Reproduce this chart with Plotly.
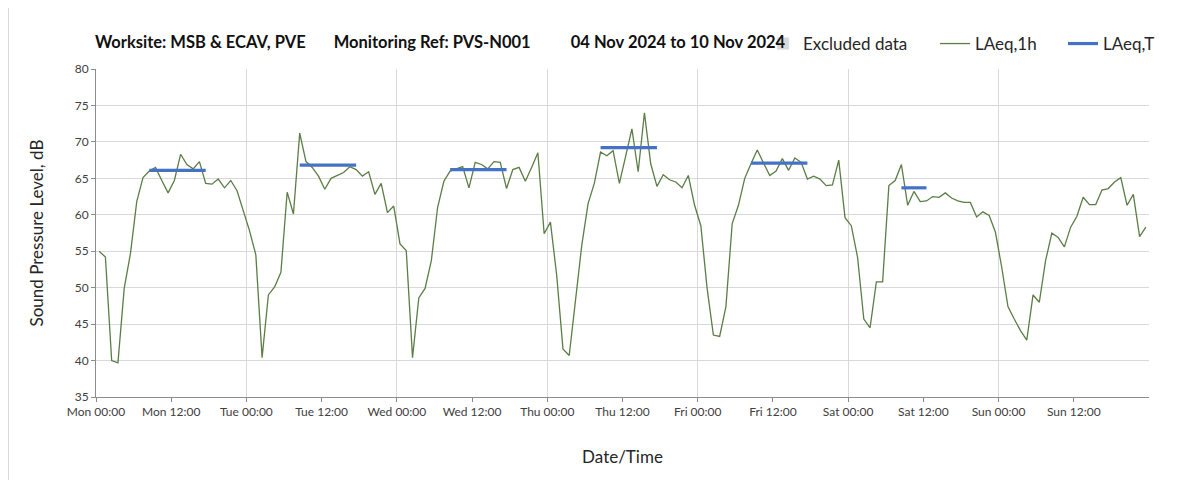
import plotly.graph_objects as go

# ---- data (hourly LAeq,1h values, one list per day, points at hh:30) ----
days = ["Mon", "Tue", "Wed", "Thu", "Fri", "Sat", "Sun"]
mon = [55.0, 54.2, 40.0, 39.7, 49.9, 54.7, 61.8, 65.1, 66.0, 66.5, 64.7, 63.0,
       64.7, 68.3, 66.9, 66.3, 67.3, 64.3, 64.2, 64.9, 63.7, 64.7, 63.3, 60.5]
tue = [57.8, 54.5, 40.4, 49.0, 50.1, 52.1, 63.1, 60.1, 71.2, 67.3, 66.5, 65.3,
       63.5, 65.0, 65.4, 65.8, 66.6, 66.2, 65.3, 65.9, 62.8, 64.3, 60.3, 61.2]
wed = [56.0, 55.1, 40.4, 48.6, 49.9, 53.7, 61.0, 64.6, 66.0, 66.3, 66.6, 63.7,
       67.2, 66.9, 66.3, 67.3, 67.2, 63.6, 66.2, 66.5, 64.6, 66.5, 68.5, 57.4]
thu = [59.0, 51.7, 41.6, 40.7, 48.3, 55.8, 61.5, 64.3, 68.6, 68.1, 68.8, 64.3,
       68.0, 71.8, 65.9, 74.0, 67.0, 63.9, 65.5, 64.8, 64.5, 63.7, 65.4, 61.3]
fri = [58.5, 49.9, 43.5, 43.3, 47.4, 58.8, 61.3, 65.0, 67.0, 68.9, 67.1, 65.4,
       66.0, 67.7, 66.1, 67.8, 67.2, 64.9, 65.3, 64.9, 64.0, 64.1, 67.5, 59.6]
sat = [58.5, 54.2, 45.7, 44.5, 50.8, 50.8, 64.0, 64.7, 66.9, 61.3, 63.2, 61.8,
       61.9, 62.5, 62.4, 63.0, 62.3, 61.9, 61.7, 61.7, 59.7, 60.4, 59.9, 57.6]
sun = [52.8, 47.4, 45.7, 44.1, 42.8, 49.0, 48.0, 53.7, 57.5, 56.9, 55.6, 58.3,
       59.8, 62.4, 61.4, 61.4, 63.4, 63.6, 64.5, 65.1, 61.3, 62.8, 57.0, 58.3]
laeq_1h = mon + tue + wed + thu + fri + sat + sun
hours = [h + 0.5 for h in range(len(laeq_1h))]

# LAeq,T per assessment period (Mon-Sat)
period_day = [0, 1, 2, 3, 4, 5]
period_start = [8.5, 8.5, 8.5, 8.5, 8.5, 8.5]
period_end = [17.5, 17.5, 17.5, 17.5, 17.5, 12.5]
laeq_t = [66.1, 66.8, 66.2, 69.2, 67.1, 63.7]

tick_vals = list(range(0, 168, 12))
tick_text = [f"{d} {t}" for d in days for t in ("00:00", "12:00")]
grid_vals = list(range(0, 169, 24))

# ---- figure ----
FONT = "Lato"
OFF = 8                      # default page (body) margin
W, H = 1203 - 2 * OFF, 488 - 2 * OFF
L, T = 96 - OFF, 69 - OFF
R = W - (1149 - OFF)
B = H - (397 - OFF)
PW = W - L - R
PH = H - T - B

fig = go.Figure()

fig.add_trace(go.Bar(x=[None], y=[None], name="Excluded data",
                     marker_color="#d9d9d9", legend="legend"))

fig.add_trace(go.Scatter(x=hours, y=laeq_1h, mode="lines", name="LAeq,1h",
                         line=dict(color="#5b7d46", width=1.3),
                         legend="legend2"))

bx, by = [], []
for d, s, e, v in zip(period_day, period_start, period_end, laeq_t):
    bx += [d * 24 + s, d * 24 + e, None]
    by += [v, v, None]
fig.add_trace(go.Scatter(x=bx, y=by, mode="lines", name="LAeq,T",
                         line=dict(color="#4472c4", width=3.2),
                         legend="legend3", connectgaps=False))

def px2paper(px):            # page x -> paper x
    return (px - 96) / PW

leg_common = dict(orientation="h", yanchor="middle", y=1 + (69 - 44) / PH,
                  xanchor="left", bgcolor="rgba(0,0,0,0)",
                  font=dict(family=FONT, size=17, color="#262626"),
                  itemwidth=30)

NB = "\u00a0"
title_text = ("Worksite: MSB &amp; ECAV, PVE" + NB * 7 +
              "Monitoring Ref: PVS-N001" + NB * 10 +
              "04 Nov 2024 to 10 Nov 2024")

fig.update_layout(
    width=W, height=H,
    margin=dict(l=L, r=R, t=T, b=B, autoexpand=False),
    paper_bgcolor="white", plot_bgcolor="white",
    title=dict(
        text=title_text,
        x=(95 - OFF) / W, xanchor="left", xref="container",
        y=1 - (42 - OFF) / H, yanchor="middle", yref="container",
        font=dict(family=FONT, size=16.5, color="#111111", weight="bold")),
    legend=dict(leg_common, x=px2paper(763)),
    legend2=dict(leg_common, x=px2paper(935)),
    legend3=dict(leg_common, x=px2paper(1063)),
    showlegend=True,
    xaxis=dict(
        range=[0, 168], tickmode="array", tickvals=tick_vals, ticktext=tick_text,
        showgrid=False, zeroline=False,
        showline=True, linecolor="#8c8c8c", linewidth=1,
        ticks="outside", ticklen=4, tickcolor="#8c8c8c",
        tickfont=dict(family=FONT, size=12, color="#404040"),
        minor=dict(tickmode="array", tickvals=grid_vals, showgrid=True,
                   gridcolor="#d9d9d9", gridwidth=1, ticks=""),
        title=dict(text="Date/Time", standoff=32,
                   font=dict(family=FONT, size=17, color="#262626")),
    ),
    yaxis=dict(
        range=[35, 80], dtick=5, tick0=35,
        showgrid=True, gridcolor="#d9d9d9", gridwidth=1, zeroline=False,
        showline=True, linecolor="#8c8c8c", linewidth=1,
        ticks="outside", ticklen=4, tickcolor="#8c8c8c",
        tickfont=dict(family=FONT, size=12, color="#404040"),
        title=dict(text="Sound Pressure Level, dB", standoff=26,
                   font=dict(family=FONT, size=17, color="#262626")),
    ),
    shapes=[dict(type="line", xref="paper", yref="paper",
                 x0=-(L - 0.5) / PW, x1=-(L - 0.5) / PW,
                 y0=-B / PH, y1=1 + T / PH,
                 line=dict(color="#d9d9d9", width=1), layer="below")],
)

fig.write_html("out.html")
